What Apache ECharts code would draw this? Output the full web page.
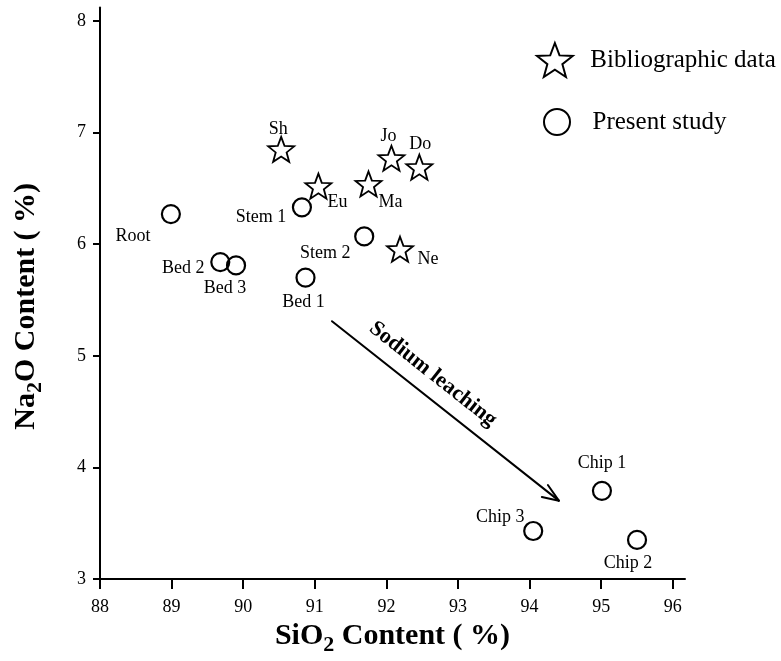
<!DOCTYPE html>
<html>
<head>
<meta charset="utf-8">
<script src="https://cdn.jsdelivr.net/npm/echarts@6/dist/echarts.min.js"></script>
<style>
  html, body { margin: 0; padding: 0; background: #fff; }
  #chart { width: 781px; height: 661px; }
</style>
</head>
<body>
<div id="chart"></div>
<script>
// ---- Data ----
const bibNames = ['Sh', 'Eu', 'Ma', 'Jo', 'Do', 'Ne'];
const bibSiO2 = [90.53, 91.05, 91.75, 92.07, 92.46, 92.19];
const bibNa2O = [6.85, 6.52, 6.54, 6.77, 6.69, 5.955];

const studyNames = ['Root', 'Bed 2', 'Bed 3', 'Bed 1', 'Stem 1', 'Stem 2', 'Chip 1', 'Chip 3', 'Chip 2'];
const studySiO2 = [88.99, 89.68, 89.90, 90.87, 90.82, 91.69, 95.01, 94.05, 95.50];
const studyNa2O = [6.27, 5.84, 5.81, 5.70, 6.33, 6.07, 3.79, 3.43, 3.35];

const xTicks = [88, 89, 90, 91, 92, 93, 94, 95, 96];
const yTicks = [3, 4, 5, 6, 7, 8];

// arrow annotation (data coordinates): shaft start, tip, and the two head-arm ends
const arrowStart = [91.24, 5.31];
const arrowTip = [94.408, 3.702];
const arrowArm1 = [94.255, 3.842];
const arrowArm2 = [94.171, 3.735];
const arrowText = 'Sodium leaching';

const seriesNames = ['Bibliographic data', 'Present study'];

// ---- Style / layout config (not data) ----
const FONT = "'Liberation Serif', 'Times New Roman', serif";
const bibLabelOffsets = {
  'Sh': [-3, -20], 'Eu': [19, 16], 'Ma': [22, 18], 'Jo': [-3, -22], 'Do': [1, -23], 'Ne': [28, 10]
};
const studyLabelOffsets = {
  'Root': [-38, 22], 'Bed 2': [-37, 6], 'Bed 3': [-11, 23], 'Bed 1': [-2, 25],
  'Stem 1': [-41, 10], 'Stem 2': [-39, 17], 'Chip 1': [0, -28], 'Chip 3': [-33, -14], 'Chip 2': [-9, 23]
};
const STAR = 'path://M50 0 L62.34 33 L97.55 34.55 L69.97 56.49 L79.39 90.45 L50 71 L20.61 90.45 L30.03 56.49 L2.45 34.55 L37.66 33 Z';

function buildPoints(names, xs, ys, offsets) {
  return names.map((n, i) => ({
    name: n,
    value: [xs[i], ys[i]],
    label: { offset: offsets[n] }
  }));
}

const nameRich = {
  b: { fontFamily: FONT, fontSize: 30, fontWeight: 'bold', color: '#000', lineHeight: 30, verticalAlign: 'top' },
  s: { fontFamily: FONT, fontSize: 22, fontWeight: 'bold', color: '#000', padding: [13, 0, 0, 0], verticalAlign: 'top' }
};

const chart = echarts.init(document.getElementById('chart'), null, { renderer: 'canvas' });
chart.setOption({
  animation: false,
  backgroundColor: '#fff',
  grid: { left: 100, right: 96, top: 7.6, bottom: 82, containLabel: false, outerBoundsMode: 'none' },
  legend: [
    {
      data: [{ name: seriesNames[0], icon: STAR }],
      left: 531, top: 37, itemWidth: 61, itemHeight: 34,
      selectedMode: false,
      textStyle: { fontFamily: FONT, fontSize: 25, color: '#000' }
    },
    {
      data: [{ name: seriesNames[1], icon: 'circle' }],
      left: 538, top: 103, itemWidth: 61, itemHeight: 26,
      selectedMode: false,
      textStyle: { fontFamily: FONT, fontSize: 25, color: '#000' }
    }
  ],
  xAxis: {
    type: 'value', min: 88, max: 96.17, interval: 1,
    splitLine: { show: false },
    axisLine: { show: true, onZero: false, lineStyle: { color: '#000', width: 2 } },
    axisTick: { show: true, length: 10, customValues: xTicks, lineStyle: { color: '#000', width: 2 } },
    axisLabel: { customValues: xTicks, margin: 19, fontFamily: FONT, fontSize: 18, color: '#000' },
    name: '{b|SiO}{s|2}{b| Content ( %)}',
    nameLocation: 'middle', nameGap: 40,
    nameTextStyle: { rich: nameRich }
  },
  yAxis: {
    type: 'value', min: 3, max: 8.12, interval: 1,
    splitLine: { show: false },
    axisLine: { show: true, onZero: false, lineStyle: { color: '#000', width: 2 } },
    axisTick: { show: true, length: 7, customValues: yTicks, lineStyle: { color: '#000', width: 2 } },
    axisLabel: { customValues: yTicks, margin: 14, fontFamily: FONT, fontSize: 18, color: '#000' },
    name: '{b|Na}{s|2}{b|O Content ( %)}',
    nameLocation: 'middle', nameGap: 54,
    nameTextStyle: { rich: nameRich, padding: [0, 26, 0, 0] }
  },
  series: [
    {
      name: seriesNames[0],
      type: 'scatter',
      symbol: STAR,
      symbolSize: [26, 25],
      itemStyle: { color: 'rgba(255,255,255,0)', borderColor: '#000', borderWidth: 1.8, opacity: 1 },
      label: { show: true, position: 'inside', formatter: '{b}', fontFamily: FONT, fontSize: 18, color: '#000' },
      emphasis: { disabled: true },
      data: buildPoints(bibNames, bibSiO2, bibNa2O, bibLabelOffsets),
      z: 3
    },
    {
      name: seriesNames[1],
      type: 'scatter',
      symbol: 'circle',
      symbolSize: 18,
      itemStyle: { color: 'rgba(255,255,255,0)', borderColor: '#000', borderWidth: 2.2, opacity: 1 },
      label: { show: true, position: 'inside', formatter: '{b}', fontFamily: FONT, fontSize: 18, color: '#000' },
      emphasis: { disabled: true },
      data: buildPoints(studyNames, studySiO2, studyNa2O, studyLabelOffsets),
      markLine: {
        silent: true,
        animation: false,
        symbol: ['none', 'none'],
        lineStyle: { color: '#000', width: 2, type: 'solid', cap: 'round' },
        label: {
          show: true, position: 'insideStartTop', distance: [34, 10],
          formatter: (p) => (p.dataIndex === 0 ? arrowText : ''),
          fontFamily: FONT, fontSize: 22, fontWeight: 'bold', color: '#000'
        },
        emphasis: { disabled: true },
        data: [
          [{ coord: arrowStart }, { coord: arrowTip }],
          [{ coord: arrowArm1 }, { coord: arrowTip }],
          [{ coord: arrowArm2 }, { coord: arrowTip }]
        ]
      },
      z: 3
    }
  ]
});
</script>
</body>
</html>
